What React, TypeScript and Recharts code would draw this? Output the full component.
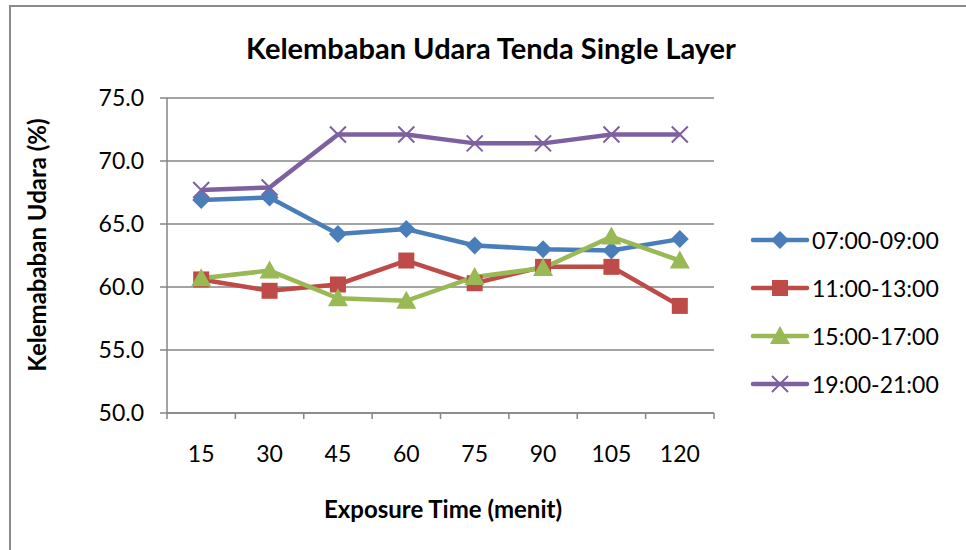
import { LineChart, Line, XAxis, YAxis, CartesianGrid } from 'recharts';

const minutes = ['15', '30', '45', '60', '75', '90', '105', '120'];
const pagi = [66.9, 67.1, 64.2, 64.6, 63.3, 63.0, 62.9, 63.8];
const siang = [60.6, 59.7, 60.2, 62.1, 60.3, 61.6, 61.6, 58.5];
const sore = [60.7, 61.3, 59.1, 58.9, 60.8, 61.5, 64.0, 62.1];
const malam = [67.7, 67.9, 72.1, 72.1, 71.4, 71.4, 72.1, 72.1];
const yTicks = [50, 55, 60, 65, 70, 75];

const FONT = 'Lato, "Open Sans", sans-serif';
const AXIS = '#868686';

const series = [
  { key: 'pagi', name: '07:00-09:00', color: '#4A7EBB', shape: 'diamond' },
  { key: 'siang', name: '11:00-13:00', color: '#BE4B48', shape: 'square' },
  { key: 'sore', name: '15:00-17:00', color: '#98B954', shape: 'triangle' },
  { key: 'malam', name: '19:00-21:00', color: '#7D60A0', shape: 'cross' },
];

// x positions sit in the middle of each category slot, like Excel
const data = minutes.map((m, i) => ({
  pos: i + 0.5,
  label: m,
  pagi: pagi[i],
  siang: siang[i],
  sore: sore[i],
  malam: malam[i],
}));

const xTicks: number[] = [];
for (let i = 0; i <= minutes.length * 2; i++) xTicks.push(i / 2);

function Marker({ cx, cy, shape, color }: any) {
  if (cx == null || cy == null) return null;
  if (shape === 'diamond') {
    const r = 9;
    return <path d={`M${cx},${cy - r}L${cx + r},${cy}L${cx},${cy + r}L${cx - r},${cy}Z`} fill={color} />;
  }
  if (shape === 'square') {
    const r = 8;
    return <rect x={cx - r} y={cy - r} width={2 * r} height={2 * r} fill={color} />;
  }
  if (shape === 'triangle') {
    const r = 9;
    return <path d={`M${cx},${cy - r - 1}L${cx + r + 1},${cy + r - 1}L${cx - r - 1},${cy + r - 1}Z`} fill={color} />;
  }
  const r = 8;
  return (
    <path
      d={`M${cx - r},${cy - r}L${cx + r},${cy + r}M${cx - r},${cy + r}L${cx + r},${cy - r}`}
      stroke={color}
      strokeWidth={2}
      fill="none"
    />
  );
}

function XTick({ x, y, payload }: any) {
  const v = payload.value;
  if (Number.isInteger(v)) {
    return <line x1={x} y1={y} x2={x} y2={y + 6} stroke={AXIS} strokeWidth={1.5} />;
  }
  const label = minutes[Math.floor(v)];
  return (
    <text x={x} y={y + 43} textAnchor="middle" dominantBaseline="middle" fontSize={23} fill="#000" fontFamily={FONT}>
      {label}
    </text>
  );
}

function LegendBox() {
  return (
    <div style={{ fontFamily: FONT, fontSize: 23, color: '#000' }}>
      {series.map((s) => (
        <div key={s.key} style={{ display: 'flex', alignItems: 'center', height: 48 }}>
          <svg width={60} height={24} style={{ marginRight: 2 }}>
            <line x1={3} y1={12} x2={57} y2={12} stroke={s.color} strokeWidth={4.5} strokeLinecap="round" />
            <Marker cx={30} cy={12} shape={s.shape} color={s.color} />
          </svg>
          <span>{s.name}</span>
        </div>
      ))}
    </div>
  );
}

export default function App() {
  return (
    <div style={{ position: 'absolute', left: 0, top: 0, width: 966, height: 550, background: '#fff', overflow: 'hidden' }}>
      <div
        style={{
          position: 'absolute',
          left: 9,
          top: 5,
          width: 980,
          height: 600,
          border: '2px solid #8c8c8c',
          boxSizing: 'border-box',
        }}
      />
      <div
        style={{
          position: 'absolute',
          left: 491,
          top: 47,
          transform: 'translate(-50%, -50%)',
          whiteSpace: 'nowrap',
          fontFamily: FONT,
          fontWeight: 700,
          fontSize: 29,
        }}
      >
        Kelembaban Udara Tenda Single Layer
      </div>
      <div
        style={{
          position: 'absolute',
          left: 36,
          top: 245,
          transform: 'translate(-50%, -50%) rotate(-90deg)',
          whiteSpace: 'nowrap',
          fontFamily: FONT,
          fontWeight: 700,
          fontSize: 24,
        }}
      >
        Kelemababan Udara (%)
      </div>
      <div
        style={{
          position: 'absolute',
          left: 443,
          top: 508,
          transform: 'translate(-50%, -50%)',
          whiteSpace: 'nowrap',
          fontFamily: FONT,
          fontWeight: 700,
          fontSize: 24,
        }}
      >
        Exposure Time (menit)
      </div>
      <div style={{ position: 'absolute', left: 0, top: 0 }}>
        <LineChart width={966} height={550} data={data} margin={{ top: 98, right: 252, left: 0, bottom: 0 }}>
          <CartesianGrid vertical={false} stroke={AXIS} strokeWidth={1.5} />
          <XAxis
            dataKey="pos"
            type="number"
            domain={[0, minutes.length]}
            ticks={xTicks}
            interval={0}
            height={137}
            tickLine={false}
            tickSize={0}
            tickMargin={0}
            axisLine={{ stroke: AXIS, strokeWidth: 1.5 }}
            tick={<XTick />}
          />
          <YAxis
            domain={[50, 75]}
            ticks={yTicks}
            interval={0}
            width={167}
            tickFormatter={(v: number) => v.toFixed(1)}
            tick={{ fontSize: 23, fill: '#000', fontFamily: FONT }}
            tickSize={7}
            tickMargin={16}
            tickLine={{ stroke: AXIS, strokeWidth: 1.5 }}
            axisLine={{ stroke: AXIS, strokeWidth: 1.5 }}
          />
          {series.map((s) => (
            <Line
              key={s.key}
              dataKey={s.key}
              name={s.name}
              stroke={s.color}
              strokeWidth={4.5}
              isAnimationActive={false}
              dot={(p: any) => <Marker key={`${s.key}-${p.index}`} cx={p.cx} cy={p.cy} shape={s.shape} color={s.color} />}
              activeDot={false}
            />
          ))}
        </LineChart>
      </div>
      <div style={{ position: 'absolute', left: 750, top: 216, width: 216 }}>
        <LegendBox />
      </div>
    </div>
  );
}
